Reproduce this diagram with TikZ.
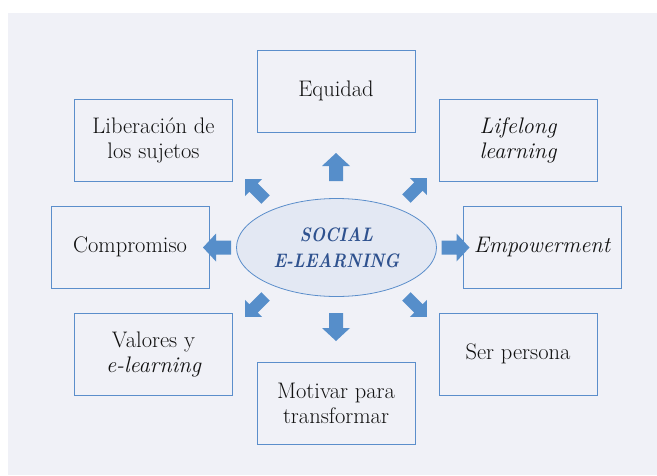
\documentclass[tikz,border=0pt]{standalone}
\usetikzlibrary{shapes.geometric}
\definecolor{bgc}{HTML}{F0F1F7}
\definecolor{ellfill}{HTML}{E3E8F3}
\definecolor{boxline}{HTML}{5B8ECB}
\definecolor{arrowblue}{HTML}{568ECA}
\definecolor{titleblue}{HTML}{2F528F}
\definecolor{txt}{HTML}{111111}
\tikzset{
  conceptbox/.style={draw=boxline, line width=0.8pt, minimum width=158pt, minimum height=82pt,
    inner sep=0pt, align=center, text=txt, font=\fontsize{22.5}{25}\selectfont},
  straightarrow/.pic={\fill[arrowblue] (-14,-7) -- (1,-7) -- (1,-14) -- (14,0) -- (1,14) -- (1,7) -- (-14,7) -- cycle;},
  diagarrow/.pic={\fill[arrowblue] (-14.5,-6) -- (2.5,-6) -- (2.5,-12) -- (14.5,0) -- (2.5,12) -- (2.5,6) -- (-14.5,6) -- cycle;}
}
\begin{document}
\begin{tikzpicture}[x=1pt,y=-1pt]
\useasboundingbox (0,0) rectangle (657,475);
\fill[bgc] (8,13) rectangle (657,475);

\node[ellipse, draw=boxline, fill=ellfill, line width=0.8pt, minimum width=200pt, minimum height=98pt,
  inner sep=0pt] (center) at (336.5,247.5) {};
\node[inner sep=0pt, align=center, text=titleblue, font=\fontsize{19.5}{26}\selectfont\bfseries\itshape]
  (centertext) at (center) {\scalebox{0.86}[1]{SOCIAL}\\\scalebox{0.86}[1]{E-LEARNING}};

\node[conceptbox] (equidad) at (336,91) {Equidad};
\node[conceptbox] (liberacion) at (153.5,140) {Liberación de\\los sujetos};
\node[conceptbox] (lifelong) at (518,140) {\itshape Lifelong\\\itshape learning};
\node[conceptbox] (compromiso) at (130,247) {Compromiso};
\node[conceptbox] (empowerment) at (542,247) {\itshape Empowerment};
\node[conceptbox] (valores) at (153.5,354) {Valores y\\\itshape e-learning};
\node[conceptbox] (serpersona) at (518,354) {Ser persona};
\node[conceptbox] (motivar) at (336,403) {Motivar para\\transformar};

\pic[rotate=90] (aup) at (336,167) {straightarrow};
\pic[rotate=-90] (adown) at (336,327) {straightarrow};
\pic[rotate=180] (aleft) at (217,247.5) {straightarrow};
\pic (aright) at (455.5,247.5) {straightarrow};
\pic[rotate=135] (aul) at (255.3,189.3) {diagarrow};
\pic[rotate=45] (aur) at (416.7,188.3) {diagarrow};
\pic[rotate=-135] (all) at (255.3,306.7) {diagarrow};
\pic[rotate=-45] (alr) at (416.7,306.7) {diagarrow};
\end{tikzpicture}
\end{document}
